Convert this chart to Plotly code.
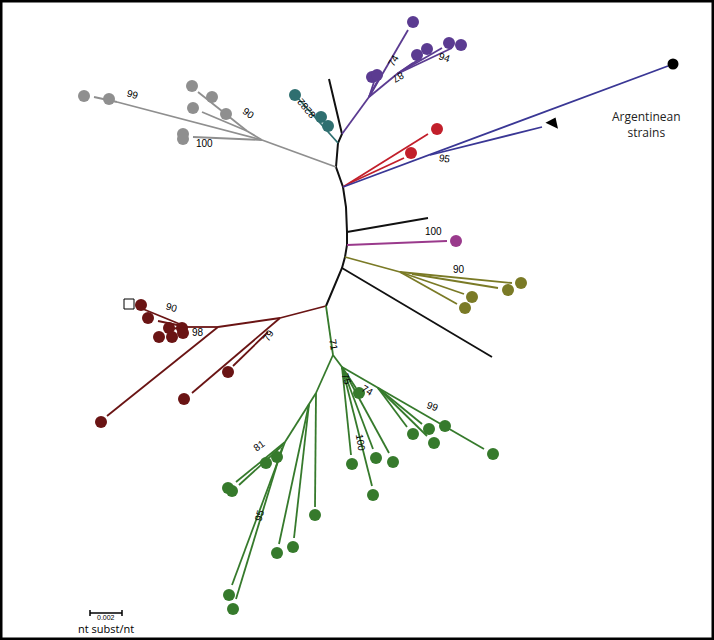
import plotly.graph_objects as go

# tree layout: node positions in layout units (x right, y down), per clade
backbone_x = [329, 342, 338, 336, 343, 346, 347, 347, 345, 342, 326]
backbone_y = [79, 134, 143, 167, 187, 207, 232, 245, 257, 268, 306]

# branches as (x0, y0, x1, y1)
black_br = [(347, 232, 428, 218), (342, 268, 492, 357)]
teal_br = [(338, 143, 296, 96)]
purple_br = [(342, 134, 369, 97), (369, 97, 408, 30), (369, 97, 374, 82), (369, 97, 378, 80),
             (369, 97, 397, 74), (397, 74, 413, 63), (397, 74, 421, 58), (397, 74, 442, 48),
             (397, 74, 452, 48)]
red_br = [(343, 187, 428, 134), (350, 183, 404, 158)]
blue_br = [(343, 187, 668, 66), (430, 155, 542, 127)]
magenta_br = [(347, 245, 447, 241)]
olive_br = [(345, 257, 400, 272), (400, 272, 512, 283), (412, 274, 498, 288),
            (400, 272, 464, 294), (400, 272, 457, 304)]
gray_br = [(336, 167, 262, 140), (262, 140, 117, 102), (117, 102, 94, 97), (262, 140, 247, 131),
           (247, 131, 198, 92), (247, 131, 202, 112), (262, 140, 193, 137)]
maroon_br = [(326, 306, 280, 318), (280, 318, 218, 327), (218, 327, 107, 416), (218, 327, 187, 327),
             (187, 327, 143, 309), (187, 327, 158, 321), (187, 327, 170, 329),
             (280, 318, 192, 393), (268, 332, 233, 366)]
green_br = [(326, 306, 333, 355), (333, 355, 316, 393), (316, 393, 315, 507), (309, 404, 279, 544),
            (309, 404, 294, 538), (316, 393, 285, 442), (285, 442, 236, 482), (283, 445, 239, 485),
            (285, 442, 232, 585), (282, 448, 236, 599), (333, 355, 342, 367), (342, 367, 351, 455),
            (342, 367, 372, 486), (342, 367, 373, 449), (342, 367, 389, 453), (342, 367, 356, 388),
            (342, 367, 484, 449), (378, 388, 407, 427), (378, 388, 422, 424), (378, 388, 427, 436)]

# leaf circles
teal_cx, teal_cy = [295, 321, 328], [95, 117, 126]
purple_cx = [413, 372, 377, 417, 427, 449, 461]
purple_cy = [22, 77, 75, 55, 49, 43, 45]
red_cx, red_cy = [437, 411], [129, 153]
magenta_cx, magenta_cy = [456], [241]
olive_cx, olive_cy = [521, 508, 472, 465], [283, 290, 297, 308]
gray_cx = [109, 84, 192, 212, 193, 226, 183, 183]
gray_cy = [99, 96, 86, 97, 108, 114, 134, 139]
maroon_cx = [101, 184, 228, 141, 148, 169, 182, 159, 172, 183]
maroon_cy = [422, 399, 372, 305, 318, 328, 328, 337, 337, 333]
green_cx = [315, 277, 293, 228, 232, 266, 277, 229, 233,
            352, 373, 376, 393, 359, 413, 429, 434, 445, 493]
green_cy = [515, 553, 547, 488, 491, 463, 457, 595, 609,
            464, 495, 458, 462, 393, 434, 429, 443, 426, 454]
argentina_x, argentina_y = [673], [64]
triangle_x, triangle_y = [553], [123]
square_x, square_y = [129], [304]

# bootstrap labels
boot_text = ["74", "87", "94", "8282", "99", "90", "100", "95", "100", "90", "90", "98",
             "79", "71", "75", "74", "100", "99", "81", "95"]
boot_x = [393, 398, 445, 306, 133, 249, 204, 445, 433, 459, 172, 198,
          268, 334, 347, 368, 361, 433, 259, 259]
boot_y = [60, 78, 57, 109, 94, 113, 143, 158, 231, 269, 307, 332,
          335, 345, 379, 390, 442, 406, 445, 515]
boot_angle = [-60, 150, 18, 230, 15, 35, 0, 10, 0, 0, 15, 0,
              -60, 80, 70, 30, 80, 20, -35, -75]

colors = {"black": "#111111", "teal": "#2f6f70", "purple": "#5b3b91", "red": "#c21f2b",
          "blue": "#3a3795", "magenta": "#9a3a8c", "olive": "#7a7a26", "gray": "#8f8f8f",
          "maroon": "#6a1414", "green": "#367a2c"}


def seg_xy(segs):
    xs, ys = [], []
    for x0, y0, x1, y1 in segs:
        xs += [x0, x1, None]
        ys += [y0, y1, None]
    return xs, ys


fig = go.Figure()

fig.add_trace(go.Scatter(x=backbone_x, y=backbone_y, mode="lines",
                         line=dict(color=colors["black"], width=2), hoverinfo="skip"))

for name, segs in [("black", black_br), ("teal", teal_br), ("purple", purple_br), ("red", red_br),
                   ("blue", blue_br), ("magenta", magenta_br), ("olive", olive_br),
                   ("gray", gray_br), ("maroon", maroon_br), ("green", green_br)]:
    xs, ys = seg_xy(segs)
    fig.add_trace(go.Scatter(x=xs, y=ys, mode="lines",
                             line=dict(color=colors[name], width=1.8), hoverinfo="skip"))

for name, cx, cy in [("teal", teal_cx, teal_cy), ("purple", purple_cx, purple_cy),
                     ("red", red_cx, red_cy), ("magenta", magenta_cx, magenta_cy),
                     ("olive", olive_cx, olive_cy), ("gray", gray_cx, gray_cy),
                     ("maroon", maroon_cx, maroon_cy), ("green", green_cx, green_cy)]:
    fig.add_trace(go.Scatter(x=cx, y=cy, mode="markers",
                             marker=dict(color=colors[name], size=12, line=dict(width=0)),
                             hoverinfo="skip"))

fig.add_trace(go.Scatter(x=argentina_x, y=argentina_y, mode="markers",
                         marker=dict(color="black", size=11), hoverinfo="skip"))
fig.add_trace(go.Scatter(x=triangle_x, y=triangle_y, mode="markers",
                         marker=dict(color="black", size=12, symbol="triangle-up", angle=25),
                         hoverinfo="skip"))
fig.add_trace(go.Scatter(x=square_x, y=square_y, mode="markers",
                         marker=dict(color="white", size=10, symbol="square",
                                     line=dict(color="black", width=1)),
                         hoverinfo="skip"))

for t, x, y, a in zip(boot_text, boot_x, boot_y, boot_angle):
    fig.add_annotation(x=x, y=y, text=t, showarrow=False, textangle=a,
                       font=dict(family="Liberation Sans", size=10, color="black"))

fig.add_annotation(x=646, y=124, text="Argentinean<br>strains", showarrow=False,
                   font=dict(family="Open Sans", size=12, color="#222222"))

# scale bar
fig.add_shape(type="line", x0=90, y0=613, x1=122, y1=613, line=dict(color="black", width=1.5))
fig.add_shape(type="line", x0=90, y0=610, x1=90, y1=616, line=dict(color="black", width=1.5))
fig.add_shape(type="line", x0=122, y0=610, x1=122, y1=616, line=dict(color="black", width=1.5))
fig.add_annotation(x=106, y=617, text="0.002", showarrow=False,
                   font=dict(family="Liberation Sans", size=7, color="black"))
fig.add_annotation(x=106, y=628, text="nt subst/nt", showarrow=False,
                   font=dict(family="Open Sans", size=11, color="black"))

# frame
fig.add_shape(type="rect", xref="paper", yref="paper", x0=0, y0=0, x1=1, y1=1,
              line=dict(color="black", width=5))

fig.update_xaxes(range=[0, 714], visible=False)
fig.update_yaxes(range=[640, 0], visible=False)
fig.update_layout(width=714, height=640, margin=dict(l=0, r=0, t=0, b=0),
                  plot_bgcolor="white", paper_bgcolor="white", showlegend=False)

fig.write_html("out.html", config={"displayModeBar": False},
               post_script="document.body.style.margin='0';")
